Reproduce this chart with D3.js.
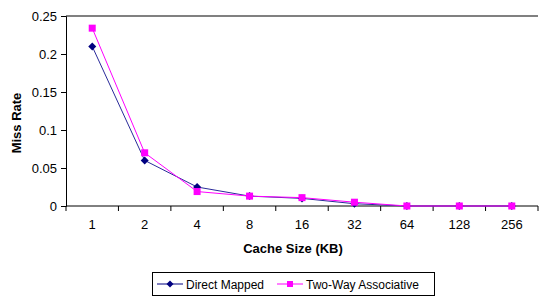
<!DOCTYPE html>
<html>
<head>
<meta charset="utf-8">
<script src="https://cdn.jsdelivr.net/npm/d3@7"></script>
<style>
  body { margin: 0; background: #fff; }
  text { font-family: "Liberation Sans", Arial, sans-serif; }
</style>
</head>
<body>
<script>
const sizes = ['1', '2', '4', '8', '16', '32', '64', '128', '256']
const directMapped = [0.210, 0.060, 0.025, 0.013, 0.010, 0.003, 0.000, 0.000, 0.000]
const twoWay = [0.234, 0.070, 0.019, 0.013, 0.011, 0.005, 0.000, 0.000, 0.000]
const yTicks = [0, 0.05, 0.1, 0.15, 0.2, 0.25]

const width = 539
const height = 297
const margin = {top: 16, bottom: 91, left: 66, right: 1}

const svg = d3.select('body').append('svg')
  .attr('width', width)
  .attr('height', height)

const xScale = d3.scaleBand()
  .domain(sizes)
  .range([margin.left, width - margin.right])

const yScale = d3.scaleLinear()
  .domain([0, 0.25])
  .range([height - margin.bottom, margin.top])

// top border line
svg.append('line')
  .attr('x1', margin.left).attr('x2', width - margin.right)
  .attr('y1', yScale(0.25)).attr('y2', yScale(0.25))
  .attr('stroke', '#808080')
  .attr('stroke-width', 2)

const yAxis = d3.axisLeft(yScale)
  .tickValues(yTicks)
  .tickFormat(d => d3.format('')(+d.toFixed(2)))
  .tickSize(5)
  .tickPadding(4)

const yAxisGroup = svg.append('g')
  .attr('transform', `translate(${margin.left},0)`)
  .call(yAxis)
yAxisGroup.select('.domain').attr('stroke', '#000')
yAxisGroup.selectAll('text').attr('font-size', 13).attr('fill', '#000')

const xAxis = d3.axisBottom(xScale)
  .tickSize(0)
  .tickPadding(14)

const xAxisGroup = svg.append('g')
  .attr('transform', `translate(0,${yScale(0)})`)
  .call(xAxis)
xAxisGroup.select('.domain').attr('d', `M${margin.left},0H${width - margin.right}`).attr('stroke', '#000')
xAxisGroup.selectAll('text').attr('font-size', 13).attr('fill', '#000')

// category boundary ticks
xAxisGroup.selectAll('.btick')
  .data(sizes)
  .join('line')
  .attr('class', 'btick')
  .attr('x1', d => xScale(d) + xScale.bandwidth())
  .attr('x2', d => xScale(d) + xScale.bandwidth())
  .attr('y1', 0).attr('y2', 5)
  .attr('stroke', '#000')
xAxisGroup.append('line')
  .attr('x1', margin.left).attr('x2', margin.left)
  .attr('y1', 0).attr('y2', 5)
  .attr('stroke', '#000')

// axis titles
svg.append('text')
  .attr('x', 293)
  .attr('y', 253)
  .attr('text-anchor', 'middle')
  .attr('font-size', 13)
  .attr('font-weight', 'bold')
  .text('Cache Size (KB)')

svg.append('text')
  .attr('transform', `translate(21,${(margin.top + yScale(0)) / 2 + 12}) rotate(-90)`)
  .attr('text-anchor', 'middle')
  .attr('font-size', 13)
  .attr('font-weight', 'bold')
  .text('Miss Rate')

const cx = d => xScale(d) + xScale.bandwidth() / 2
const line = d3.line()
  .x((d, i) => cx(sizes[i]))
  .y(d => yScale(d))

const dmColor = '#000080'
const twColor = '#ff00ff'

svg.append('path')
  .attr('d', line(directMapped))
  .attr('fill', 'none')
  .attr('stroke', '#2a2a9a')
  .attr('stroke-width', 1)

svg.selectAll('.dm')
  .data(directMapped)
  .join('path')
  .attr('class', 'dm')
  .attr('transform', (d, i) => `translate(${cx(sizes[i])},${yScale(d)})`)
  .attr('d', 'M0,-4L4,0L0,4L-4,0Z')
  .attr('fill', dmColor)

svg.append('path')
  .attr('d', line(twoWay))
  .attr('fill', 'none')
  .attr('stroke', twColor)
  .attr('stroke-width', 1)

svg.selectAll('.tw')
  .data(twoWay)
  .join('rect')
  .attr('class', 'tw')
  .attr('x', (d, i) => cx(sizes[i]) - 3.5)
  .attr('y', d => yScale(d) - 3.5)
  .attr('width', 7)
  .attr('height', 7)
  .attr('fill', twColor)

// legend
const legend = svg.append('g')
legend.append('rect')
  .attr('x', 152.5).attr('y', 272.5)
  .attr('width', 282).attr('height', 23)
  .attr('fill', '#fff')
  .attr('stroke', '#000')

const items = [
  {name: 'Direct Mapped', color: dmColor, x: 157, marker: 'diamond'},
  {name: 'Two-Way Associative', color: twColor, x: 277, marker: 'square'}
]
items.forEach(it => {
  legend.append('line')
    .attr('x1', it.x).attr('x2', it.x + 26)
    .attr('y1', 284).attr('y2', 284)
    .attr('stroke', it.color)
  if (it.marker === 'diamond') {
    legend.append('path')
      .attr('transform', `translate(${it.x + 13},284)`)
      .attr('d', 'M0,-3.5L3.5,0L0,3.5L-3.5,0Z')
      .attr('fill', it.color)
  } else {
    legend.append('rect')
      .attr('x', it.x + 10).attr('y', 281)
      .attr('width', 6).attr('height', 6)
      .attr('fill', it.color)
  }
  legend.append('text')
    .attr('x', it.x + 29)
    .attr('y', 288.5)
    .attr('font-size', 12)
    .text(it.name)
})
</script>
</body>
</html>
